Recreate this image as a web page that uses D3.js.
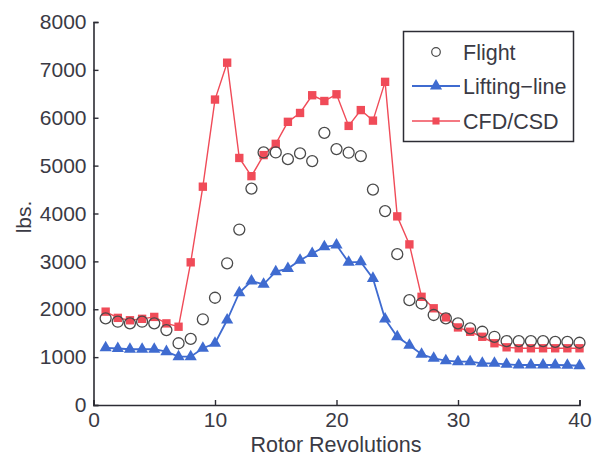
<!DOCTYPE html>
<html>
<head>
<meta charset="utf-8">
<script src="https://cdn.jsdelivr.net/npm/d3@7"></script>
<style>
  html, body { margin: 0; padding: 0; background: #fff; }
  svg { display: block; }
  text { font-family: "Liberation Sans", Arial, sans-serif; fill: #3a3a44; }
</style>
</head>
<body>
<svg id="chart" width="602" height="462"></svg>
<script>
// Rotor revolution index 1..40
const revolutions = d3.range(1, 41);

// Measured flight loads (lbs.)
const flight = [1810, 1740, 1705, 1740, 1705, 1565, 1290, 1380, 1790, 2240,
                2960, 3665, 4520, 5275, 5275, 5135, 5255, 5095, 5685, 5345,
                5270, 5200, 4500, 4050, 3150, 2190, 2120, 1880, 1810, 1705,
                1600, 1530, 1425, 1335, 1335, 1335, 1335, 1320, 1320, 1300];

// Lifting-line prediction (lbs.)
const liftingLine = [1195, 1180, 1165, 1165, 1165, 1115, 1010, 1010, 1185, 1290,
                     1775, 2345, 2590, 2520, 2785, 2850, 3025, 3165, 3305, 3340,
                     2980, 2990, 2645, 1795, 1425, 1250, 1060, 975, 925, 905,
                     905, 870, 870, 850, 835, 835, 835, 835, 830, 820];

// Coupled CFD/CSD prediction (lbs.)
const cfdCsd = [1950, 1820, 1770, 1800, 1840, 1705, 1635, 2980, 4560, 6380,
                7150, 5160, 4780, 5220, 5455, 5915, 6100, 6470, 6350, 6490,
                5830, 6160, 5940, 6750, 3940, 3355, 2260, 2020, 1830, 1620,
                1530, 1425, 1290, 1205, 1185, 1185, 1185, 1185, 1185, 1185];

const xTicks = [0, 10, 20, 30, 40];
const yTicks = [0, 1000, 2000, 3000, 4000, 5000, 6000, 7000, 8000];

const legendLabels = ["Flight", "Lifting\u2212line", "CFD/CSD"];

const RED = "#f04b58";
const BLUE = "#3f6bd0";
const INK = "#2c2c34";

const svg = d3.select("#chart");

const x = d3.scaleLinear().domain([0, 40]).range([93.5, 579.5]);
const y = d3.scaleLinear().domain([0, 8000]).range([405, 22]);

// Axes: ticks point inward
const xAxis = svg.append("g")
  .attr("transform", `translate(0,${y(0)})`)
  .call(d3.axisBottom(x).tickValues(xTicks).tickSize(-5).tickPadding(9).tickFormat(d3.format("d")));
const yAxis = svg.append("g")
  .attr("transform", `translate(${x(0)},0)`)
  .call(d3.axisLeft(y).tickValues(yTicks).tickSize(-5).tickPadding(7).tickFormat(d3.format("d")));

[xAxis, yAxis].forEach(g => {
  g.select(".domain").attr("stroke", INK).attr("stroke-width", 1.6);
  g.selectAll(".tick line").attr("stroke", INK).attr("stroke-width", 1.4);
  g.selectAll(".tick text").attr("font-size", 21).style("fill", "#3a3a44");
});
xAxis.selectAll(".tick text").attr("dy", "0.6em");

// Axis titles
svg.append("text")
  .attr("x", 336).attr("y", 452)
  .attr("text-anchor", "middle")
  .attr("font-size", 21.5)
  .text("Rotor Revolutions");

svg.append("text")
  .attr("transform", "translate(31,217) rotate(-90)")
  .attr("text-anchor", "middle")
  .attr("font-size", 21)
  .text("lbs.");

const triangle = d3.symbol().type(d3.symbolTriangle).size(64);
const square = d3.symbol().type(d3.symbolSquare).size(70);

const line = d3.line().x((d, i) => x(revolutions[i])).y(d => y(d));

// CFD/CSD series
svg.append("path")
  .datum(cfdCsd)
  .attr("d", line)
  .attr("fill", "none")
  .attr("stroke", RED)
  .attr("stroke-width", 1.4);
svg.append("g").selectAll("path")
  .data(cfdCsd)
  .join("path")
  .attr("d", square)
  .attr("transform", (d, i) => `translate(${x(revolutions[i])},${y(d)})`)
  .attr("fill", RED);

// Lifting-line series
svg.append("path")
  .datum(liftingLine)
  .attr("d", line)
  .attr("fill", "none")
  .attr("stroke", BLUE)
  .attr("stroke-width", 1.8);
svg.append("g").selectAll("path")
  .data(liftingLine)
  .join("path")
  .attr("d", triangle)
  .attr("transform", (d, i) => `translate(${x(revolutions[i])},${y(d)})`)
  .attr("fill", BLUE);

// Flight measurements: open circles
svg.append("g").selectAll("circle")
  .data(flight)
  .join("circle")
  .attr("cx", (d, i) => x(revolutions[i]))
  .attr("cy", d => y(d))
  .attr("r", 5.5)
  .attr("fill", "none")
  .attr("stroke", "#4a4a4a")
  .attr("stroke-width", 1.3);

// Legend
const legend = svg.append("g");
legend.append("rect")
  .attr("x", 403.5).attr("y", 31.5)
  .attr("width", 170).attr("height", 110)
  .attr("fill", "#fff")
  .attr("stroke", INK)
  .attr("stroke-width", 1.5);

const rows = [52, 86, 121];
const lx0 = 412, lx1 = 460, lxm = 436, tx = 463;

legend.append("circle")
  .attr("cx", lxm).attr("cy", rows[0]).attr("r", 4.3)
  .attr("fill", "none").attr("stroke", "#4a4a4a").attr("stroke-width", 1.2);

legend.append("line")
  .attr("x1", lx0).attr("x2", lx1).attr("y1", rows[1]).attr("y2", rows[1])
  .attr("stroke", BLUE).attr("stroke-width", 1.8);
legend.append("path")
  .attr("d", triangle)
  .attr("transform", `translate(${lxm},${rows[1]})`)
  .attr("fill", BLUE);

legend.append("line")
  .attr("x1", lx0).attr("x2", lx1).attr("y1", rows[2]).attr("y2", rows[2])
  .attr("stroke", RED).attr("stroke-width", 1.4);
legend.append("path")
  .attr("d", d3.symbol().type(d3.symbolSquare).size(50))
  .attr("transform", `translate(${lxm},${rows[2]})`)
  .attr("fill", RED);

legend.selectAll("text.lbl")
  .data(legendLabels)
  .join("text")
  .attr("class", "lbl")
  .attr("x", tx)
  .attr("y", (d, i) => rows[i])
  .attr("dy", "0.35em")
  .attr("font-size", 21.5)
  .text(d => d);
</script>
</body>
</html>
